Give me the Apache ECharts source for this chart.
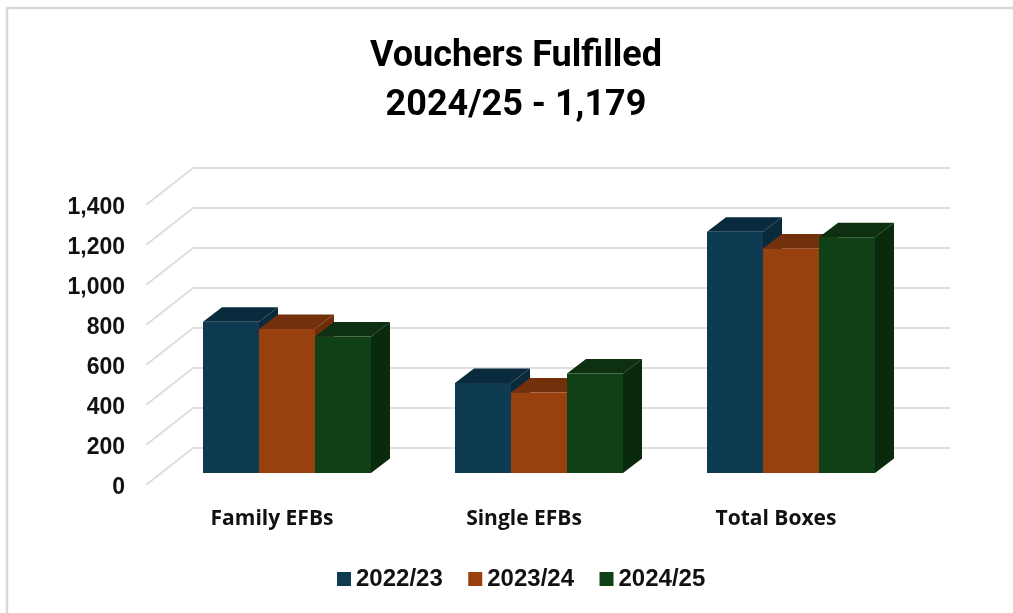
<!DOCTYPE html>
<html>
<head>
<meta charset="utf-8">
<style>html,body{margin:0;padding:0;background:#fff}#c{width:1013px;height:613px}</style>
<script src="https://cdn.jsdelivr.net/npm/echarts@6/dist/echarts.min.js"></script>
</head>
<body>
<div id="c"></div>
<script>
const categories = ['Family EFBs', 'Single EFBs', 'Total Boxes'];
const seriesNames = ['2022/23', '2023/24', '2024/25'];
const values2022 = [756, 450, 1206];
const values2023 = [720, 402, 1122];
const values2024 = [682, 497, 1179];
const yTicks = [0, 200, 400, 600, 800, 1000, 1200, 1400];

const faceColors = ['#0F3B52', '#98410F', '#104016'];
const topColors = ['#0A2B3D', '#72300B', '#0C3010'];
const sideColors = ['#0A2A3B', '#6E2E0A', '#0A2A0D'];

// oblique projection offsets, in pixels
const wall = { dx: 47, dy: -37 };
const plane = { dx: 15, dy: -12 };
const depth = { dx: 19, dy: -14.5 };

function gridRender(params, api) {
  const p = api.coord([0, api.value(0)]);
  const cs = params.coordSys;
  const x0 = cs.x, y0 = p[1];
  const style = { stroke: '#dfdfdf', lineWidth: 2, fill: null };
  return {
    type: 'polyline',
    shape: { points: [[x0, y0], [x0 + wall.dx, y0 + wall.dy], [x0 + cs.width + wall.dx + 1, y0 + wall.dy]] },
    style, silent: true
  };
}

function barRender(idx) {
  return function (params, api) {
    const cat = api.value(0), val = api.value(1);
    const band = api.size([1, 0])[0];
    const w = band / 4.5;
    const top = api.coord([cat, val]);
    const base = api.coord([cat, 0]);
    const l = top[0] + plane.dx + (idx - 1.5) * w;
    const r = l + w;
    const t = top[1] + plane.dy;
    const b = base[1] + plane.dy;
    return {
      type: 'group',
      children: [
        { type: 'polygon', shape: { points: [[r, t], [r + depth.dx, t + depth.dy], [r + depth.dx, b + depth.dy], [r, b]] },
          style: { fill: sideColors[idx] } },
        { type: 'polygon', shape: { points: [[l, t], [l + depth.dx, t + depth.dy], [r + depth.dx, t + depth.dy], [r, t]] },
          style: { fill: topColors[idx] } },
        { type: 'rect', shape: { x: l, y: t, width: w, height: b - t },
          style: { fill: faceColors[idx] } }
      ]
    };
  };
}

function barSeries(idx, vals) {
  return {
    name: seriesNames[idx],
    type: 'custom',
    z: 5 + idx,
    coordinateSystem: 'cartesian2d',
    itemStyle: { color: faceColors[idx] },
    encode: { x: 0, y: 1 },
    data: vals.map((v, i) => [i, v]),
    renderItem: barRender(idx),
    clip: false
  };
}

const chart = echarts.init(document.getElementById('c'), null, { renderer: 'canvas' });
chart.setOption({
  animation: false,
  backgroundColor: '#ffffff',
  title: {
    text: 'Vouchers Fulfilled\n2024/25 - 1,179',
    left: 511, top: 27, textAlign: 'center',
    textStyle: { fontFamily: 'Roboto', fontWeight: 'bold', fontSize: 36, lineHeight: 49, color: '#000000' }
  },
  legend: {
    data: seriesNames,
    left: 337, top: 567, padding: 0,
    icon: 'rect', itemWidth: 14, itemHeight: 14, itemGap: 25.5,
    textStyle: { fontFamily: 'Liberation Sans', fontWeight: 'bold', fontSize: 24, color: '#111111' }
  },
  grid: { left: 146, width: 756, top: 205, height: 280, containLabel: false },
  xAxis: {
    type: 'category', data: categories,
    axisLine: { show: false }, axisTick: { show: false }, splitLine: { show: false },
    axisLabel: { margin: 24, fontFamily: 'Open Sans', fontWeight: 'bold', fontSize: 21, color: '#111111' }
  },
  yAxis: {
    type: 'value', min: 0, max: 1400, interval: 200,
    axisLine: { show: false }, axisTick: { show: false }, splitLine: { show: false },
    axisLabel: {
      margin: 21, verticalAlign: 'top', lineHeight: 5, fontFamily: 'Liberation Sans', fontWeight: 'bold', fontSize: 23, color: '#111111',
      formatter: v => v.toLocaleString('en-US')
    }
  },
  graphic: [
    { type: 'polyline', silent: true, z: 0, shape: { points: [[7, 613], [7, 8], [1013, 8]] },
      style: { stroke: '#d9d9d9', lineWidth: 2.5, fill: null } }
  ],
  series: [
    { name: 'grid', type: 'custom', z: 1, coordinateSystem: 'cartesian2d', silent: true, clip: false,
      encode: { y: 0 }, data: yTicks.map(v => [v]), renderItem: gridRender },
    barSeries(0, values2022),
    barSeries(1, values2023),
    barSeries(2, values2024)
  ]
});
</script>
</body>
</html>
